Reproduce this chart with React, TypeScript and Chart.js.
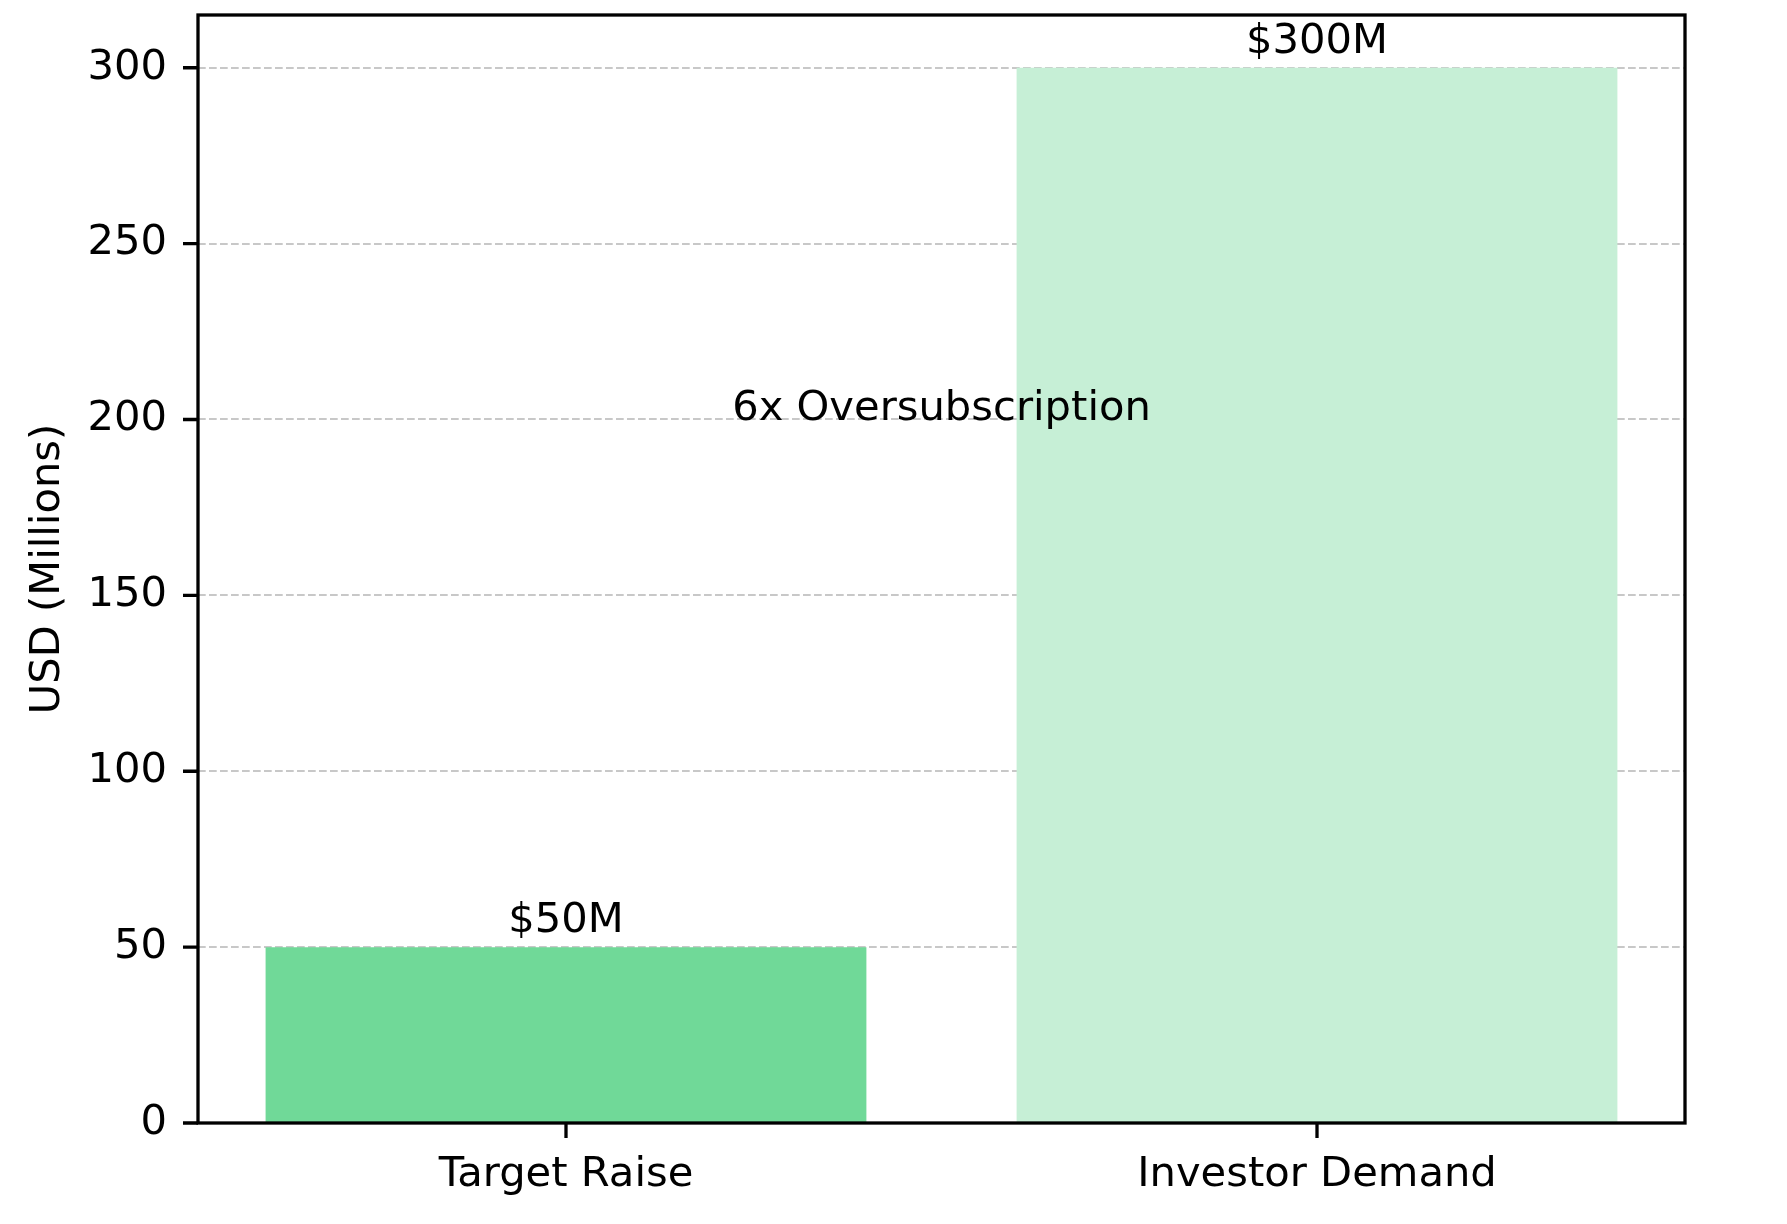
import React, { useEffect, useRef } from "react";
import { Chart, registerables } from "chart.js";

Chart.register(...registerables);

const categories = ["Target Raise", "Investor Demand"];
const values = [50, 300];
const barLabels = ["$50M", "$300M"];
const barColors = ["#70d998", "#c6efd6"];
const yTicks = [0, 50, 100, 150, 200, 250, 300];
const yAxisTitle = "USD (Millions)";
const annotationText = "6x Oversubscription";
const annotationPos = { x: 0.5, y: 200 };

const FONT = "DejaVu Sans";
const FS = 41.67;

export default function App() {
  const ref = useRef<HTMLCanvasElement | null>(null);

  useEffect(() => {
    document.body.style.margin = "0";
    const canvas = ref.current!;
    const overlay = {
      id: "overlay",
      afterDatasetsDraw(chart: any) {
        const ctx = chart.ctx;
        const xs = chart.scales.x;
        const ys = chart.scales.y;
        ctx.save();
        ctx.fillStyle = "#000";
        ctx.font = `${FS}px "${FONT}"`;
        ctx.textAlign = "center";
        ctx.textBaseline = "alphabetic";
        values.forEach((v, i) => {
          ctx.fillText(barLabels[i], xs.getPixelForValue(i), ys.getPixelForValue(v) - 15);
        });
        ctx.fillText(annotationText, xs.getPixelForValue(annotationPos.x), ys.getPixelForValue(annotationPos.y));
        ctx.restore();
      },
      afterDraw(chart: any) {
        const ctx = chart.ctx;
        const a = chart.chartArea;
        const xs = chart.scales.x;
        const ys = chart.scales.y;
        ctx.save();
        ctx.strokeStyle = "#000";
        ctx.lineWidth = 3.3;
        ctx.setLineDash([]);
        ctx.strokeRect(a.left, a.top, a.right - a.left, a.bottom - a.top);
        ctx.beginPath();
        yTicks.forEach((t) => {
          const y = ys.getPixelForValue(t);
          ctx.moveTo(a.left - 15, y);
          ctx.lineTo(a.left, y);
        });
        categories.forEach((_, i) => {
          const x = xs.getPixelForValue(i);
          ctx.moveTo(x, a.bottom);
          ctx.lineTo(x, a.bottom + 15);
        });
        ctx.stroke();
        ctx.restore();
      },
    };

    const chart = new Chart(canvas, {
      type: "bar",
      data: {
        datasets: [
          {
            data: values.map((v, i) => ({ x: i, y: v })),
            backgroundColor: barColors,
            borderWidth: 0,
            barPercentage: 0.8,
            categoryPercentage: 1.0,
          },
        ],
      },
      options: {
        animation: false,
        responsive: false,
        devicePixelRatio: 1,
        layout: { padding: { left: 0, top: 15, right: 102, bottom: 0 } },
        plugins: { legend: { display: false }, tooltip: { enabled: false } },
        scales: {
          x: {
            type: "linear",
            offset: false,
            min: -0.49,
            max: 1.49,
            afterBuildTicks: (s: any) => {
              s.ticks = categories.map((_, i) => ({ value: i }));
            },
            afterFit: (s: any) => {
              s.height = 101;
              s.paddingLeft = 0;
              s.paddingRight = 0;
            },
            grid: { display: false, drawTicks: false, offset: false },
            border: { display: false },
            ticks: {
              padding: 27,
              color: "#000",
              font: { family: FONT, size: FS },
              maxRotation: 0,
              autoSkip: false,
              callback: (v: any) => categories[Math.round(Number(v))] ?? "",
            },
          },
          y: {
            type: "linear",
            min: 0,
            max: 315,
            afterBuildTicks: (s: any) => {
              s.ticks = yTicks.map((v) => ({ value: v }));
            },
            afterFit: (s: any) => {
              s.width = 198;
              s.paddingTop = 0;
              s.paddingBottom = 0;
            },
            grid: {
              color: "#c8c8c8",
              lineWidth: 2.08,
              drawTicks: false,
            },
            border: { display: false, dash: [7.7, 3.3] },
            ticks: {
              padding: 31,
              color: "#000",
              font: { family: FONT, size: FS },
            },
            title: {
              display: true,
              text: yAxisTitle,
              color: "#000",
              font: { family: FONT, size: FS, lineHeight: 1 },
              padding: { top: 27, bottom: 0 },
            },
          },
        },
      },
      plugins: [overlay],
    } as any);
    return () => chart.destroy();
  }, []);

  return (
    <div style={{ width: 1787, height: 1224, background: "#fff" }}>
      <canvas ref={ref} width={1787} height={1224} style={{ display: "block" }} />
    </div>
  );
}
